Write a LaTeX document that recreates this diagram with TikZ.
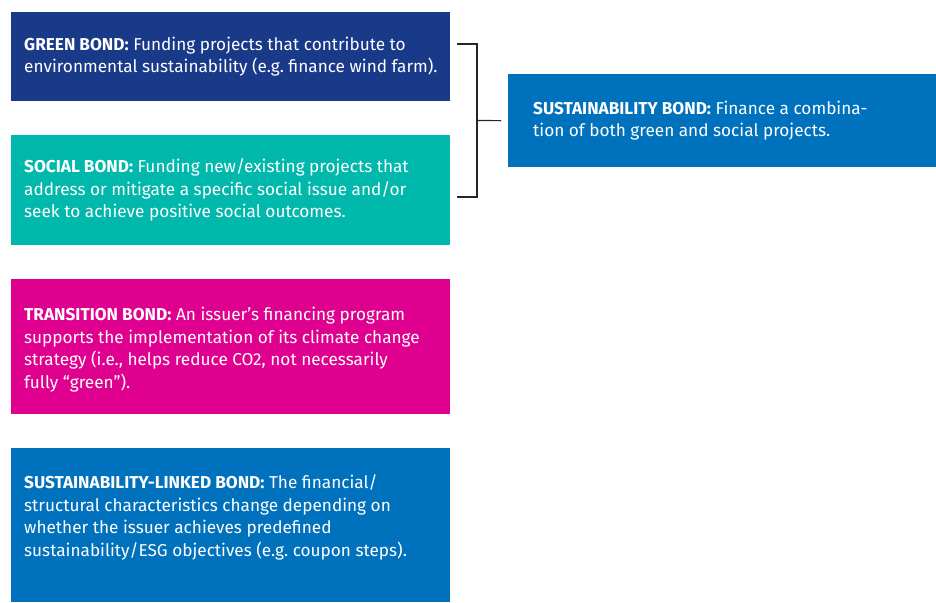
\documentclass[tikz,border=0pt]{standalone}
\usepackage{fontspec}
\setmainfont{Fira Sans}
\usepackage{xcolor}
\usetikzlibrary{positioning}
\definecolor{greenbond}{RGB}{25,57,137}
\definecolor{socialbond}{RGB}{0,184,172}
\definecolor{transbond}{RGB}{224,0,144}
\definecolor{sustbond}{RGB}{0,113,188}
\tikzset{
  bondbox/.style={rectangle, anchor=north west, minimum width=439pt, inner sep=0pt},
  bondtext/.style={anchor=west, inner sep=0pt, align=left, text=white,
    font=\fontsize{17.2}{22.5}\selectfont\frenchspacing},
  brace/.style={draw=black!85, line width=1.2pt},
  every picture/.style={line cap=butt, line join=miter}
}

\begin{document}
\begin{tikzpicture}[x=1pt, y=1pt]
  \useasboundingbox (0,0) rectangle (936,-602);

  % Bond types, left column
  \node[bondbox, fill=greenbond, minimum height=89pt] (green) at (11,-12) {};
  \node[bondtext, right=13pt of green.west, anchor=west] (greentxt)
    {\textbf{GREEN BOND:} Funding projects that contribute to\\
     environmental sustainability (e.g. finance wind farm).};

  \node[bondbox, fill=socialbond, minimum height=110pt] (social) at (11,-135) {};
  \node[bondtext, right=13pt of social.west, anchor=west] (socialtxt)
    {\textbf{SOCIAL BOND:} Funding new/existing projects that\\
     address or mitigate a specific social issue and/or\\
     seek to achieve positive social outcomes.};

  \node[bondbox, fill=transbond, minimum height=135pt] (trans) at (11,-279) {};
  \node[bondtext, right=13pt of trans.west, anchor=west, yshift=-3pt] (transtxt)
    {\textbf{TRANSITION BOND:} An issuer’s financing program\\
     supports the implementation of its climate change\\
     strategy (i.e., helps reduce CO2, not necessarily\\
     fully “green”).};

  \node[bondbox, fill=sustbond, minimum height=154pt] (linked) at (11,-448) {};
  \node[bondtext, right=13pt of linked.west, anchor=west, yshift=8pt] (linkedtxt)
    {\textbf{SUSTAINABILITY-LINKED BOND:} The financial/\\
     structural characteristics change depending on\\
     whether the issuer achieves predefined\\
     sustainability/ESG objectives (e.g. coupon steps).};

  % Green + social combined
  \node[bondbox, fill=sustbond, minimum width=428pt, minimum height=93pt] (sust) at (508,-74) {};
  \node[bondtext, right=25pt of sust.west, anchor=west] (susttxt)
    {\textbf{SUSTAINABILITY BOND:} Finance a combina-\\
     tion of both green and social projects.};

  % bracket
  \coordinate (btop) at (457,-44);
  \coordinate (bbot) at (457,-197);
  \coordinate (bmid) at (477,-120.5);
  \draw[brace] (btop) -| (bbot -| bmid) -- (bbot);
  \draw[brace, shorten >=7pt] (bmid) -- (sust.west);
\end{tikzpicture}
\end{document}
